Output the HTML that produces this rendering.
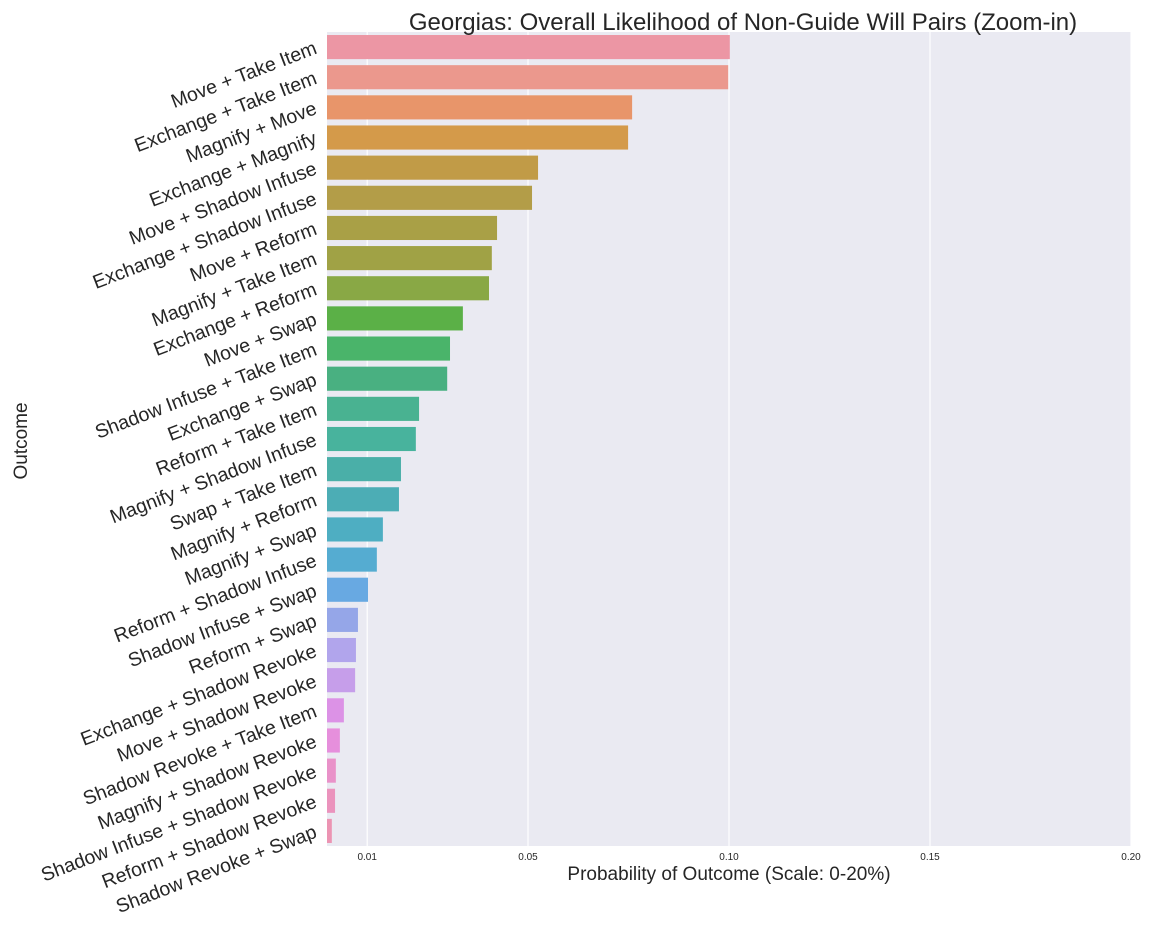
<!DOCTYPE html>
<html><head><meta charset="utf-8"><style>
body{margin:0;background:#fff;font-family:"Liberation Sans",Arial,sans-serif}
svg text{font-family:"Liberation Sans",Arial,sans-serif;fill:#262626}
</style></head><body>
<svg id="chart" width="1152" height="936">
<rect x="327" y="32" width="804" height="814" fill="#eaeaf2"/>
<g id="grid"></g><g id="bars"></g><g id="ylabels"></g><g id="xticks"></g>
<text x="743" y="30" text-anchor="middle" font-size="24">Georgias: Overall Likelihood of Non-Guide Will Pairs (Zoom-in)</text>
<text x="729" y="880" text-anchor="middle" font-size="19">Probability of Outcome (Scale: 0-20%)</text>
<text x="0" y="0" transform="translate(27,441) rotate(-90)" text-anchor="middle" font-size="19">Outcome</text>
</svg>
<script>
const categories=["Move + Take Item","Exchange + Take Item","Magnify + Move","Exchange + Magnify","Move + Shadow Infuse","Exchange + Shadow Infuse","Move + Reform","Magnify + Take Item","Exchange + Reform","Move + Swap","Shadow Infuse + Take Item","Exchange + Swap","Reform + Take Item","Magnify + Shadow Infuse","Swap + Take Item","Magnify + Reform","Magnify + Swap","Reform + Shadow Infuse","Shadow Infuse + Swap","Reform + Swap","Exchange + Shadow Revoke","Move + Shadow Revoke","Shadow Revoke + Take Item","Magnify + Shadow Revoke","Shadow Infuse + Shadow Revoke","Reform + Shadow Revoke","Shadow Revoke + Swap"];
const values=[0.1002,0.0998,0.0759,0.0749,0.0525,0.051,0.0423,0.041,0.0403,0.0338,0.0306,0.0299,0.0229,0.0221,0.0184,0.0179,0.0139,0.0124,0.0102,0.0077,0.0072,0.007,0.0042,0.0032,0.0022,0.002,0.0012];
const tickValues=[0.01,0.05,0.10,0.15,0.20];
const tickLabels=["0.01","0.05","0.10","0.15","0.20"];
const colors=["#ec96a4","#eb988d","#e8956a","#d49a4a","#c19b47","#b39d48","#a9a046","#a0a245","#89a845","#5bb047","#4ab46a","#49b081","#49b291","#48b39d","#4aafa8","#4cadb5","#4eaec2","#55acd1","#68a9e2","#95a6e8","#b1a5ec","#c69eea","#dc92e6","#e68fdc","#e992c9","#eb93bd","#ec94b3"];
const NS="http://www.w3.org/2000/svg";
const x0=327,x1=1131,y0=32,y1=846,xmax=0.2;
const xs=v=>x0+v/xmax*(x1-x0);
const band=(y1-y0)/categories.length;
const yc=i=>y0+band*(i+0.5);
const g=document.getElementById('grid'),b=document.getElementById('bars'),yl=document.getElementById('ylabels'),xt=document.getElementById('xticks');
tickValues.forEach((t,i)=>{
 const l=document.createElementNS(NS,'line');
 l.setAttribute('x1',xs(t));l.setAttribute('x2',xs(t));l.setAttribute('y1',y0);l.setAttribute('y2',y1);
 l.setAttribute('stroke','#fff');l.setAttribute('stroke-width','1.2');
 
 
 g.appendChild(l);
 const tx=document.createElementNS(NS,'text');
 tx.setAttribute('x',xs(t));tx.setAttribute('y',860);tx.setAttribute('text-anchor','middle');tx.setAttribute('font-size','10');
 tx.textContent=tickLabels[i];
 
 
 xt.appendChild(tx);
});
categories.forEach((c,i)=>{
 const r=document.createElementNS(NS,'rect');
 const h=band*0.8;
 r.setAttribute('x',x0);r.setAttribute('y',yc(i)-h/2);r.setAttribute('width',xs(values[i])-x0);r.setAttribute('height',h);
 r.setAttribute('fill',colors[i]);
 
 
 b.appendChild(r);
 const t=document.createElementNS(NS,'text');
 const ty=yc(i)+6;
 t.setAttribute('x',318);t.setAttribute('y',ty);t.setAttribute('text-anchor','end');t.setAttribute('font-size','19.5');
 t.setAttribute('transform','rotate(-21 318 '+ty+')');
 t.textContent=c;
 
 
 yl.appendChild(t);
});
</script>
</body></html>
